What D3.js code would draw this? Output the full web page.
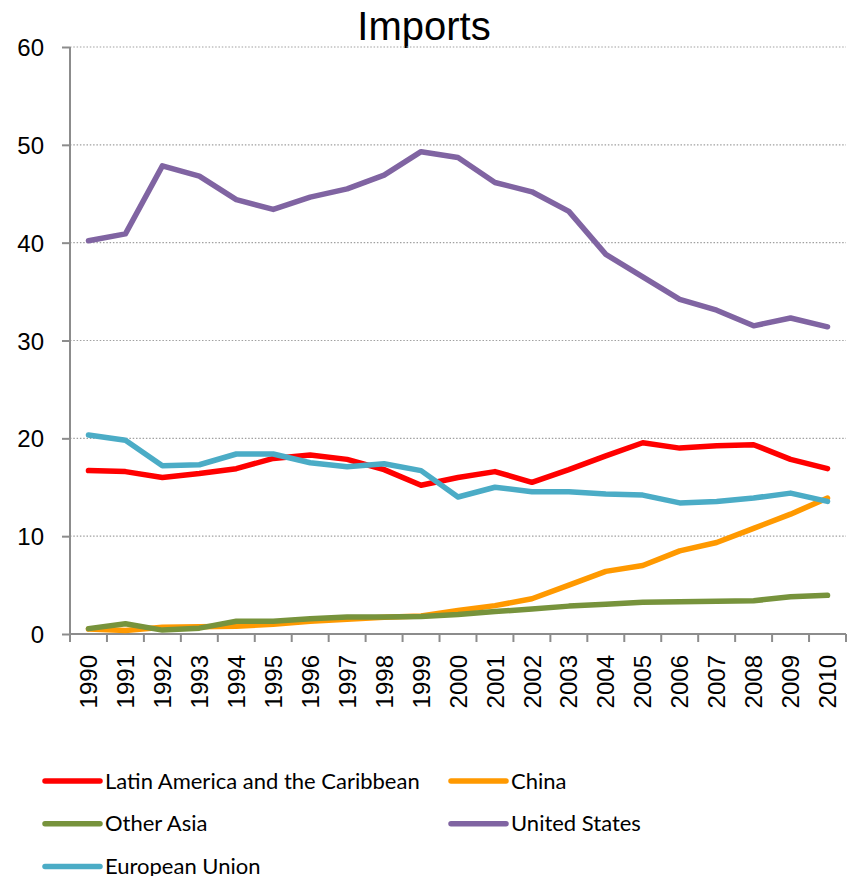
<!DOCTYPE html>
<html>
<head>
<meta charset="utf-8">
<title>Imports</title>
<script src="https://d3js.org/d3.v7.min.js"></script>
<style>
body {margin:0; background-color:white;}
.grid line {stroke:#a0a0a0; stroke-width:1.2; stroke-dasharray:1.5,1.8;}
.axisline {stroke:#8c8c8c; stroke-width:2;}
.ylab, .xlab {font-family:'Liberation Sans', Arial, sans-serif; font-size:24px; fill:black;}
.legend text {font-family:Lato, 'Noto Sans', sans-serif; font-size:22px; fill:black;}
</style>
</head>
<body>
<svg width="854" height="876"></svg>

<script>
var years = ['1990','1991','1992','1993','1994','1995','1996','1997','1998','1999','2000',
             '2001','2002','2003','2004','2005','2006','2007','2008','2009','2010']
var yTicks = [0,10,20,30,40,50,60]

var latin = [16.7,16.6,16.0,16.4,16.9,17.95,18.3,17.85,16.8,15.2,16.0,16.6,15.5,16.8,18.2,19.55,19.0,19.25,19.35,17.85,16.9]
var china = [0.5,0.35,0.7,0.75,0.8,1.0,1.3,1.5,1.7,1.85,2.4,2.9,3.6,5.0,6.4,7.0,8.5,9.35,10.8,12.25,13.9]
var otherAsia = [0.55,1.05,0.4,0.6,1.3,1.3,1.55,1.75,1.75,1.8,2.0,2.3,2.55,2.85,3.05,3.25,3.3,3.35,3.4,3.8,3.95]
var us = [40.2,40.9,47.85,46.8,44.4,43.4,44.65,45.5,46.9,49.3,48.7,46.15,45.2,43.2,38.8,36.5,34.2,33.1,31.5,32.3,31.4]
var eu = [20.35,19.8,17.2,17.3,18.4,18.4,17.5,17.1,17.4,16.7,14.0,15.0,14.55,14.55,14.3,14.2,13.4,13.55,13.9,14.4,13.55]

var names = ['Latin America and the Caribbean','China','Other Asia','United States','European Union']
var colors = ['#ff0000','#ff9900','#77933c','#8064a2','#4bacc6']
var series = [latin, china, otherAsia, us, eu]

//plot box (window.top is taken, so other names)
var plotLeft = 70, plotRight = 846, plotTop = 47, plotBottom = 634

var x = d3.scaleBand().domain(years).range([plotLeft,plotRight]).padding(0)
var y = d3.scaleLinear().domain([0,60]).range([plotBottom,plotTop])

var svg = d3.select('svg')

//title
svg.append('text')
    .attr('x',424)
    .attr('y',40)
    .attr('text-anchor','middle')
    .style('font-family',"'Liberation Sans', Arial, sans-serif")
    .style('font-size','40px')
    .text('Imports')

//dotted gridlines
svg.append('g')
    .attr('class','grid')
    .selectAll('line')
    .data(yTicks.filter(function(d) {return d>0}))
    .enter()
    .append('line')
      .attr('x1',plotLeft)
      .attr('x2',plotRight)
      .attr('y1',function(d) {return y(d)})
      .attr('y2',function(d) {return y(d)})

//y axis
var yAxis = svg.append('g')
    .attr('transform','translate('+plotLeft+',0)')
    .call(d3.axisLeft(y).tickValues(yTicks).tickSize(8).tickPadding(18).tickFormat(d3.format('d')))
yAxis.select('.domain').remove()
yAxis.selectAll('line').attr('class','axisline')
yAxis.selectAll('text').attr('class','ylab').attr('dy','0.36em')
svg.append('line')
    .attr('class','axisline')
    .attr('x1',plotLeft).attr('x2',plotLeft)
    .attr('y1',plotTop).attr('y2',plotBottom)

//x axis, ticks between categories like excel
svg.append('line')
    .attr('class','axisline')
    .attr('x1',plotLeft).attr('x2',plotRight)
    .attr('y1',plotBottom).attr('y2',plotBottom)
svg.append('g')
    .selectAll('line')
    .data(years.map(function(d) {return x(d)}).concat([plotRight]))
    .enter()
    .append('line')
      .attr('class','axisline')
      .attr('x1',function(d) {return d})
      .attr('x2',function(d) {return d})
      .attr('y1',plotBottom)
      .attr('y2',plotBottom+8)

svg.append('g')
    .selectAll('text')
    .data(years)
    .enter()
    .append('text')
      .attr('class','xlab')
      .attr('text-anchor','end')
      .attr('dy','0.36em')
      .attr('transform',function(d) {return 'translate('+(x(d)+x.bandwidth()/2)+','+(plotBottom+21)+') rotate(-90)'})
      .text(function(d) {return d})

//lines
var line = d3.line()
    .x(function(d,i) {return x(years[i])+x.bandwidth()/2})
    .y(function(d) {return y(d)})

svg.append('g')
    .selectAll('path')
    .data(series)
    .enter()
    .append('path')
      .attr('d',line)
      .attr('fill','none')
      .attr('stroke',function(d,i) {return colors[i]})
      .attr('stroke-width',5.5)
      .attr('stroke-linejoin','round')
      .attr('stroke-linecap','round')

//legend, two columns
var legend = svg.append('g').attr('class','legend')
    .selectAll('g')
    .data(names)
    .enter()
    .append('g')
      .attr('transform',function(d,i) {return 'translate('+(i%2==0 ? 45 : 451)+','+(781+Math.floor(i/2)*42.7)+')'})

legend.append('line')
    .attr('x1',0).attr('x2',55)
    .attr('y1',0).attr('y2',0)
    .attr('stroke',function(d,i) {return colors[i]})
    .attr('stroke-width',5.5)
    .attr('stroke-linecap','round')

legend.append('text')
    .attr('x',60)
    .attr('y',7.5)
    .text(function(d) {return d})
</script>
</body>
</html>
